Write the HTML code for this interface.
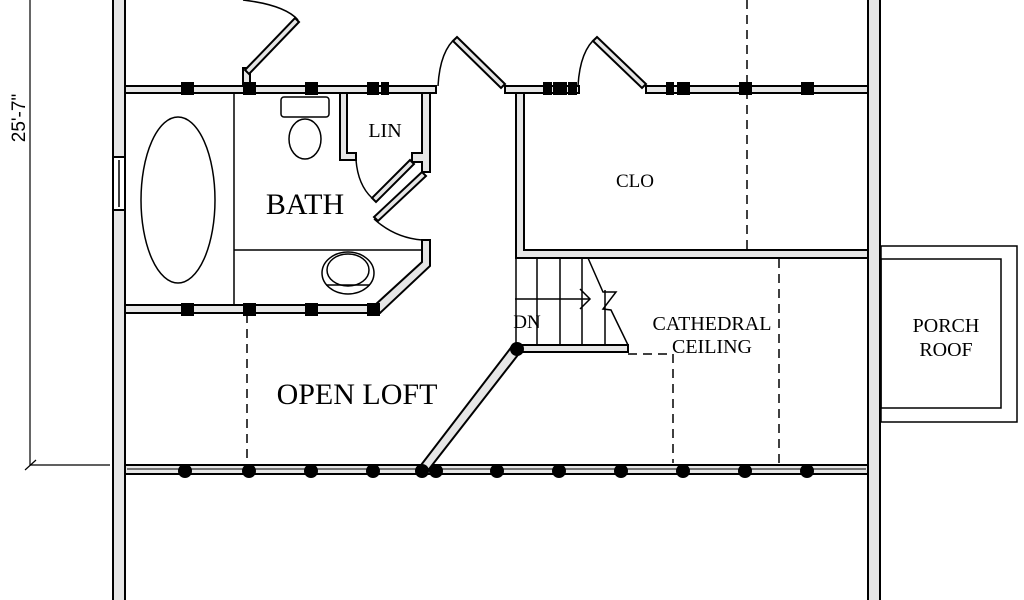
<!DOCTYPE html>
<html><head><style>html,body{margin:0;padding:0;background:#fff}svg{display:block}</style></head>
<body>
<svg width="1024" height="600" viewBox="0 0 1024 600" xmlns="http://www.w3.org/2000/svg" font-family="Liberation Serif, serif">
<g stroke="#000" stroke-width="2" fill="#e6e6e6">
<rect x="113" y="-5" width="12" height="610"/>
<rect x="868" y="-5" width="12" height="610"/>
<rect x="125" y="86" width="311" height="7"/>
<rect x="505" y="86" width="74" height="7"/>
<rect x="646" y="86" width="222" height="7"/>
<path d="M125 305 H375 L422 262 V240 H430 V266 L380 313 H125 Z"/>
<path d="M340 93 V160 H356 V153 H347 V93 Z"/>
<path d="M422 93 V153 H412 V162 H422 V172 H430 V93 Z"/>
<path d="M516 93 V258 H868 V250 H524 V93 Z"/>
<rect x="517" y="345" width="111" height="7"/>
<rect x="125" y="465" width="743" height="9"/>
<path d="M513 345 L418 469 L426 473 L521 351 Z"/>
<rect x="243" y="68" width="7" height="18"/>
<path d="M245 70 L295 18 L299 22 L249 74 Z"/>
<path d="M457 37 L505 84 L501 88 L453 41 Z"/>
<path d="M597 37 L646 84 L642 88 L593 41 Z"/>
<path d="M410 160 L372 198 L376 202 L414 164 Z"/>
<path d="M422 172 L374 217 L378 221 L426 176 Z"/>
<rect x="113" y="157" width="12" height="53" fill="#fff"/>
</g>
<g stroke="#000" stroke-width="1.5" fill="none">
<line x1="119" y1="160" x2="119" y2="207"/>
<line x1="127" y1="469" x2="866" y2="469" stroke-width="1"/>
<path d="M243 0 Q285 5 298 20"/>
<path d="M438 86 Q440 50 457 37"/>
<path d="M578 86 Q580 50 597 37"/>
<path d="M356 160 Q358 185 372 198"/>
<path d="M374 219 Q395 238 422 240"/>
<line x1="234" y1="93" x2="234" y2="305"/>
<line x1="234" y1="250" x2="422" y2="250"/>
<ellipse cx="178" cy="200" rx="37" ry="83"/>
<rect x="281" y="97" width="48" height="20" rx="3"/>
<ellipse cx="305" cy="139" rx="16" ry="20"/>
<ellipse cx="348" cy="273" rx="26" ry="21"/>
<ellipse cx="348" cy="270" rx="21" ry="16"/>
<line x1="326" y1="285" x2="370" y2="285"/>
<line x1="516" y1="258" x2="516" y2="350"/>
<line x1="537" y1="258" x2="537" y2="345"/>
<line x1="560" y1="258" x2="560" y2="345"/>
<line x1="582" y1="258" x2="582" y2="345"/>
<line x1="605" y1="290" x2="605" y2="345"/>
<path d="M588 258 L603 292 L616 292 L603 309 L611 310 L628 345"/>
<line x1="515" y1="299" x2="590" y2="299"/>
<path d="M580 289 L590 299 L580 309"/>
<line x1="30" y1="0" x2="30" y2="466" stroke-width="1.2"/>
<line x1="30" y1="465" x2="110" y2="465" stroke-width="1.2"/>
<line x1="25" y1="470" x2="36" y2="460" stroke-width="1.2"/>
<rect x="881" y="246" width="136" height="176"/>
<rect x="881" y="259" width="120" height="149"/>
</g>
<g stroke="#000" stroke-width="1.5" stroke-dasharray="9,6" fill="none">
<line x1="247" y1="314" x2="247" y2="463"/>
<line x1="747" y1="0" x2="747" y2="249"/>
<line x1="779" y1="259" x2="779" y2="463"/>
<path d="M628 354 H673 V463"/>
</g>
<g fill="#000">
<rect x="181" y="82" width="13" height="13"/><rect x="243" y="82" width="13" height="13"/>
<rect x="305" y="82" width="13" height="13"/><rect x="367" y="82" width="12" height="13"/><rect x="381" y="82" width="8" height="13"/>
<rect x="543" y="82" width="9" height="13"/><rect x="553" y="82" width="14" height="13"/><rect x="568" y="82" width="9" height="13"/>
<rect x="666" y="82" width="8" height="13"/><rect x="677" y="82" width="13" height="13"/>
<rect x="739" y="82" width="13" height="13"/><rect x="801" y="82" width="13" height="13"/>
<rect x="181" y="303" width="13" height="13"/><rect x="243" y="303" width="13" height="13"/>
<rect x="305" y="303" width="13" height="13"/><rect x="367" y="303" width="13" height="13"/>
<circle cx="517" cy="349" r="7"/>
<circle cx="185" cy="471" r="7"/><circle cx="249" cy="471" r="7"/><circle cx="311" cy="471" r="7"/>
<circle cx="373" cy="471" r="7"/><circle cx="422" cy="471" r="7"/><circle cx="436" cy="471" r="7"/>
<circle cx="497" cy="471" r="7"/><circle cx="559" cy="471" r="7"/><circle cx="621" cy="471" r="7"/>
<circle cx="683" cy="471" r="7"/><circle cx="745" cy="471" r="7"/><circle cx="807" cy="471" r="7"/>
</g>
<g fill="#000" text-anchor="middle">
<text x="305" y="214" font-size="30">BATH</text>
<text x="385" y="137" font-size="20">LIN</text>
<text x="635" y="187" font-size="19">CLO</text>
<text x="712" y="330" font-size="20">CATHEDRAL</text>
<text x="712" y="353" font-size="20">CEILING</text>
<text x="946" y="332" font-size="20">PORCH</text>
<text x="946" y="356" font-size="20">ROOF</text>
<text x="357" y="404" font-size="30">OPEN LOFT</text>
<text x="527" y="328" font-size="19">DN</text>
<text transform="translate(25,118) rotate(-90)" font-size="19" font-family="Liberation Sans, sans-serif">25'-7"</text>
</g>
</svg>
</body></html>
